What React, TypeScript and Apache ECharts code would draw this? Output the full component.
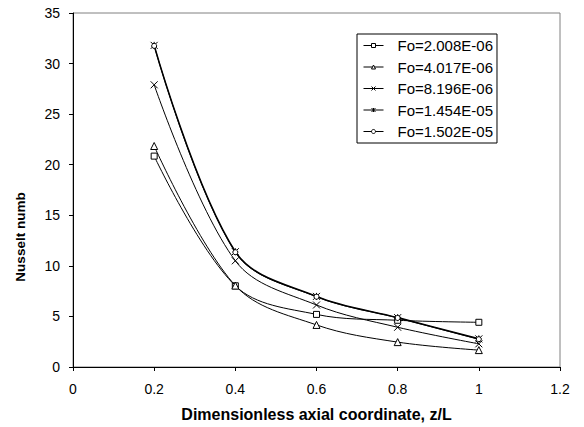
import React, { useEffect, useRef } from "react";
import * as echarts from "echarts";

const xValues = [0.2, 0.4, 0.6, 0.8, 1.0];
const seriesNames = ["Fo=2.008E-06", "Fo=4.017E-06", "Fo=8.196E-06", "Fo=1.454E-05", "Fo=1.502E-05"];
const fo1 = [20.85, 8.03, 5.2, 4.62, 4.42];
const fo2 = [21.85, 8.05, 4.16, 2.46, 1.67];
const fo3 = [27.9, 10.5, 6.13, 3.93, 2.29];
const fo4 = [31.8, 11.4, 6.98, 4.88, 2.78];
const fo5 = [31.75, 11.35, 6.95, 4.85, 2.75];
const seriesValues = [fo1, fo2, fo3, fo4, fo5];

const X_PATH = "path://M0,0L10,10M10,0L0,10";
const STAR_PATH = "path://M0,0L10,10M10,0L0,10M5,0L5,10";
const symbols = ["rect", "triangle", X_PATH, STAR_PATH, "circle"];
const symbolSizes = [6, 7, 7, 7, 5];
const lineWidths = [1, 1, 1, 1.6, 1];

const FONT = "Liberation Sans, Arial, sans-serif";

export default function App() {
  const ref = useRef<HTMLDivElement>(null);
  useEffect(() => {
    if (!ref.current) return;
    const chart = echarts.init(ref.current, undefined, { renderer: "svg" });
    chart.setOption({
      animation: false,
      backgroundColor: "#ffffff",
      textStyle: { fontFamily: FONT, color: "#000" },
      grid: {
        left: 73,
        top: 13,
        right: 24,
        bottom: 58,
        show: true,
        borderColor: "#808080",
        borderWidth: 1,
        backgroundColor: "transparent",
      },
      legend: {
        orient: "vertical",
        left: 357,
        top: 34,
        padding: [4, 4, 4, 6],
        borderColor: "#000",
        borderWidth: 1,
        itemWidth: 20,
        itemHeight: 5,
        itemGap: 6.5,
        itemStyle: { color: "#fff", borderColor: "#000", borderWidth: 1 },
        lineStyle: { color: "#000", width: 1 },
        textStyle: { fontFamily: FONT, fontSize: 15, color: "#000", padding: [0, 0, 0, 9] },
        data: seriesNames,
      },
      xAxis: {
        type: "value",
        min: 0,
        max: 1.2,
        interval: 0.2,
        name: "Dimensionless axial coordinate, z/L",
        nameLocation: "middle",
        nameGap: 39,
        nameTextStyle: { fontFamily: FONT, fontSize: 16, fontWeight: "bold", color: "#000" },
        axisLine: { show: true, onZero: false, lineStyle: { color: "#000", width: 1 } },
        axisTick: { show: true, inside: false, length: 4, lineStyle: { color: "#000" } },
        axisLabel: { fontFamily: FONT, fontSize: 14, color: "#000", margin: 15 },
        splitLine: { show: false },
      },
      yAxis: {
        type: "value",
        min: 0,
        max: 35,
        interval: 5,
        axisLine: { show: true, onZero: false, lineStyle: { color: "#000", width: 1 } },
        axisTick: { show: true, inside: false, length: 4, lineStyle: { color: "#000" } },
        axisLabel: { fontFamily: FONT, fontSize: 14, color: "#000", margin: 13 },
        splitLine: { show: false },
      },
      graphic: [
        {
          type: "text",
          x: 20,
          y: 237,
          rotation: Math.PI / 2,
          style: {
            text: "Nusselt number",
            fontFamily: FONT,
            fontSize: 13.5,
            fontWeight: "bold",
            fill: "#000",
            align: "center",
            verticalAlign: "middle",
            width: 92,
            overflow: "truncate",
            ellipsis: "",
          },
        },
      ],
      series: seriesNames.map((name, i) => ({
        name,
        type: "line",
        smooth: 0.35,
        data: xValues.map((x, j) => [x, seriesValues[i][j]]),
        symbol: symbols[i],
        symbolSize: symbolSizes[i],
        showSymbol: true,
        lineStyle: { color: "#000", width: lineWidths[i] },
        itemStyle: { color: "#fff", borderColor: "#000", borderWidth: 1 },
        emphasis: { disabled: true },
        z: 2 + i,
      })),
    });
    return () => chart.dispose();
  }, []);
  return <div ref={ref} style={{ width: 584, height: 427, position: "absolute", left: 0, top: 0 }} />;
}
